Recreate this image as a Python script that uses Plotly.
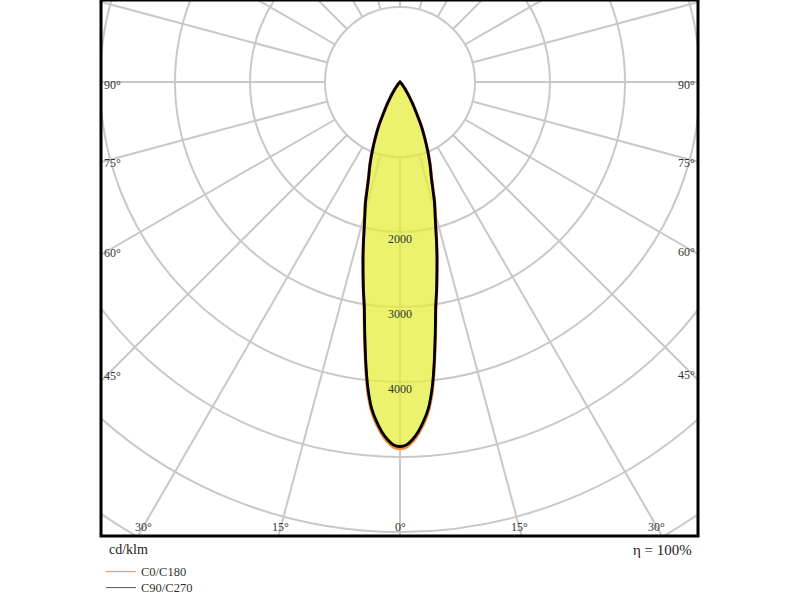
import numpy as np
import plotly.graph_objects as go

# ---- data ----
angles_deg = [0, 1, 2, 3, 4, 5, 6, 7, 8, 9, 10, 11, 12, 13, 14, 16, 18, 20, 22, 24, 26, 28, 30, 32, 34, 36, 40, 45, 50, 60, 70, 80, 90]
c0_c180 = [4890, 4870, 4800, 4695, 4560, 4390, 4130, 3775, 3400, 3055, 2820, 2590, 2380, 2170, 1970, 1680, 1370, 1175, 985, 805, 640, 465, 348, 247, 166, 108, 50, 10, 0, 0, 0, 0, 0]
c90_c270 = [4860, 4840, 4770, 4665, 4530, 4360, 4100, 3750, 3380, 3040, 2810, 2580, 2370, 2160, 1960, 1670, 1360, 1170, 980, 800, 635, 460, 345, 245, 165, 108, 50, 10, 0, 0, 0, 0, 0]
circle_values = [1000, 2000, 3000, 4000, 5000, 6000, 7000, 8000]
circle_labels = [2000, 3000, 4000]
angle_tick_values = [-90, -75, -60, -45, -30, -15, 0, 15, 30, 45, 60, 75, 90]
angle_tick_labels = ["90°", "75°", "60°", "45°", "30°", "15°", "0°", "15°", "30°", "45°", "60°", "75°", "90°"]
series_names = ["C0/C180", "C90/C270"]
unit_label = "cd/klm"
efficiency_label = "η = 100%"

# ---- layout geometry ----
PX = 75.0 / 1000.0  # px per cd/klm
XMIN, XMAX = -299 / PX, 298 / PX
YMIN, YMAX = -454 / PX, 82 / PX
FONT = "Liberation Serif"
GRID = "#c8c8c8"


def to_xy(ang, vals):
    a = np.array(ang, dtype=float)
    v = np.array(vals, dtype=float)
    full_a = np.concatenate([-a[::-1], a[1:]])
    full_v = np.concatenate([v[::-1], v[1:]])
    t = np.radians(full_a)
    return full_v * np.sin(t), -full_v * np.cos(t)


fig = go.Figure()

x0, y0 = to_xy(angles_deg, c0_c180)
x1, y1 = to_xy(angles_deg, c90_c270)

fig.add_trace(go.Scatter(x=x0, y=y0, mode="lines", fill="toself",
                         fillcolor="rgba(228,238,60,0.75)",
                         line=dict(color="#f08a3c", width=3.2, shape="spline", smoothing=0.4),
                         showlegend=False, hoverinfo="skip"))
fig.add_trace(go.Scatter(x=x1, y=y1, mode="lines",
                         line=dict(color="#000000", width=2.8, shape="spline", smoothing=0.4),
                         showlegend=False, hoverinfo="skip"))

# legend entries
fig.add_trace(go.Scatter(x=[None], y=[None], mode="lines", name=series_names[0],
                         line=dict(color="#f49a60", width=1.2), legend="legend"))
fig.add_trace(go.Scatter(x=[None], y=[None], mode="lines", name=series_names[1],
                         line=dict(color="#555555", width=1), legend="legend2"))

shapes = []
for r in circle_values:
    shapes.append(dict(type="circle", xref="x", yref="y", x0=-r, x1=r, y0=-r, y1=r,
                       line=dict(color=GRID, width=2), layer="below"))
for a in range(0, 360, 15):
    t = np.radians(a)
    r0, r1 = circle_values[0], 20000
    shapes.append(dict(type="line", xref="x", yref="y",
                       x0=r0 * np.sin(t), y0=-r0 * np.cos(t),
                       x1=r1 * np.sin(t), y1=-r1 * np.cos(t),
                       line=dict(color=GRID, width=2), layer="below"))
shapes.append(dict(type="rect", xref="paper", yref="paper", x0=0, x1=1, y0=0, y1=1,
                   line=dict(color="black", width=3), layer="above"))

annotations = []
for v in circle_labels:
    annotations.append(dict(x=0, y=-v, xref="x", yref="y", text=str(v), showarrow=False,
                            yanchor="top", yshift=2,
                            font=dict(family=FONT, size=12, color="#333333")))

inset = 8 / PX
for a, lab in zip(angle_tick_values, angle_tick_labels):
    t = np.radians(abs(a))
    sgn = 1 if a > 0 else -1
    if abs(a) >= 45:
        xe = XMAX if a > 0 else XMIN
        yy = -(abs(xe) - inset) / np.tan(t) if abs(a) < 90 else 0
        annotations.append(dict(x=xe, y=yy, xref="x", yref="y", text=lab, showarrow=False,
                                xanchor="right" if a > 0 else "left", yanchor="middle",
                                xshift=-1 if a > 0 else 1, yshift=-3,
                                font=dict(family=FONT, size=12, color="#333333")))
    else:
        yb = YMIN + 9 / PX
        xx = sgn * abs(yb) * np.tan(t)
        annotations.append(dict(x=xx, y=yb, xref="x", yref="y", text=lab, showarrow=False,
                                xanchor="center", yanchor="middle",
                                font=dict(family=FONT, size=12, color="#333333")))

annotations.append(dict(x=0.01, y=-0.026, xref="paper", yref="paper", text=unit_label,
                        showarrow=False, xanchor="left", yanchor="middle",
                        font=dict(family=FONT, size=14, color="#222222")))
annotations.append(dict(x=0.993, y=-0.026, xref="paper", yref="paper", text=efficiency_label,
                        showarrow=False, xanchor="right", yanchor="middle",
                        font=dict(family=FONT, size=15, color="#222222")))

legend_style = dict(x=0.0, xanchor="left", yanchor="top", orientation="v",
                    bgcolor="rgba(0,0,0,0)", font=dict(family=FONT, size=12.5, color="#333333"),
                    itemwidth=30, tracegroupgap=0)

fig.update_layout(
    width=800, height=600,
    margin=dict(l=101, r=102, t=0, b=64, autoexpand=False),
    paper_bgcolor="white", plot_bgcolor="white",
    xaxis=dict(range=[XMIN, XMAX], showgrid=False, zeroline=False, showticklabels=False,
               showline=False, fixedrange=True),
    yaxis=dict(range=[YMIN, YMAX], showgrid=False, zeroline=False, showticklabels=False,
               showline=False, fixedrange=True),
    shapes=shapes,
    annotations=annotations,
    showlegend=True,
    legend=dict(y=-0.039, **legend_style),
    legend2=dict(y=-0.069, **legend_style),
)

fig.write_html("out.html", config={"displayModeBar": False},
               post_script="document.body.style.margin='0px';")
